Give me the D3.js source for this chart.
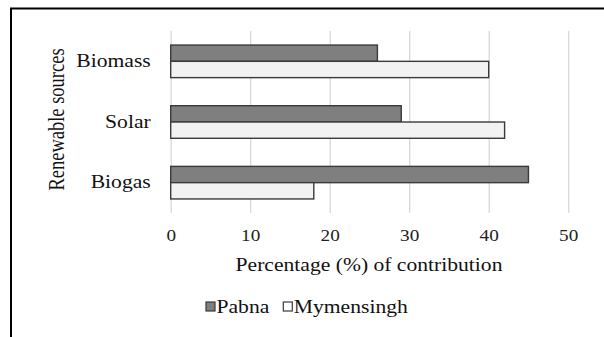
<!DOCTYPE html>
<html>
<head>
<meta charset="utf-8">
<script src="https://cdn.jsdelivr.net/npm/d3@7"></script>
<style>
  html, body { margin: 0; padding: 0; background: #fff; }
  svg text { font-family: "Liberation Serif", "Times New Roman", "DejaVu Serif", serif !important; }
</style>
</head>
<body>
<svg id="chart" width="604" height="337"></svg>
<script>
const categories = ["Biomass", "Solar", "Biogas"];
const seriesNames = ["Pabna", "Mymensingh"];
const pabna = [26, 29, 45];
const mymensingh = [40, 42, 18];
const xTicks = [0, 10, 20, 30, 40, 50];
const xTitle = "Percentage (%) of contribution";
const yTitle = "Renewable sources";
const colors = { Pabna: "#7f7f7f", Mymensingh: "#f2f2f2" };
const strokeColor = "#3a3a3a";
const K = 1.2; // horizontal stretch of the original rendering
const FONT = "'Liberation Serif', 'Times New Roman', serif";

const svg = d3.select("#chart");
const values = { Pabna: pabna, Mymensingh: mymensingh };

function stretch(sel, k) {
  sel.each(function () {
    const l = this.getComputedTextLength();
    this.setAttribute("textLength", l * k);
    this.setAttribute("lengthAdjust", "spacingAndGlyphs");
  });
}

// frame
svg.append("rect").attr("x", 11).attr("y", 8.5).attr("width", 620).attr("height", 360)
  .attr("fill", "none").attr("stroke", "#000").attr("stroke-width", 2);

const x = d3.scaleLinear().domain([0, 50]).range([170.7, 568.2]);
const y0 = d3.scaleBand().domain(categories).range([31, 213]).paddingInner(0.463).paddingOuter(0.2315);
const y1 = d3.scaleBand().domain(seriesNames).range([0, y0.bandwidth()]);

// grid + x axis
const xAxis = svg.append("g").attr("transform", `translate(0,213)`)
  .call(d3.axisBottom(x).tickValues(xTicks).tickSize(-182).tickPadding(16.6).tickFormat(d3.format("d")));
xAxis.attr("font-family", FONT);
xAxis.select(".domain").remove();
xAxis.selectAll(".tick line").attr("stroke", "#d9d9d9").attr("stroke-width", 1.3);
xAxis.selectAll(".tick text").attr("font-size", 16).attr("fill", "#222");
stretch(xAxis.selectAll(".tick text"), K);

// bars
const rows = categories.map((c, i) => ({ c, vals: seriesNames.map(s => ({ s, v: values[s][i] })) }));
const g = svg.append("g").selectAll("g").data(rows).join("g")
  .attr("transform", d => `translate(0,${y0(d.c)})`);
g.selectAll("rect").data(d => d.vals).join("rect")
  .attr("x", x(0))
  .attr("y", d => y1(d.s))
  .attr("width", d => x(d.v) - x(0))
  .attr("height", y1.bandwidth())
  .attr("fill", d => colors[d.s])
  .attr("stroke", strokeColor)
  .attr("stroke-width", 1.4);

// y axis labels
const yAxis = svg.append("g").attr("transform", `translate(${x(0)},0)`)
  .call(d3.axisLeft(y0).tickSize(0).tickPadding(20));
yAxis.attr("font-family", FONT);
yAxis.select(".domain").remove();
yAxis.selectAll(".tick text").attr("font-size", 18).attr("fill", "#111");
stretch(yAxis.selectAll(".tick text"), K);

// axis titles
const xt = svg.append("text").attr("x", 369).attr("y", 270.5).attr("text-anchor", "middle")
  .attr("font-family", FONT).attr("font-size", 18).attr("fill", "#111").text(xTitle);
stretch(xt, K);

svg.append("text")
  .attr("transform", `translate(63.5,119.5) scale(${K},1) rotate(-90)`)
  .attr("text-anchor", "middle").attr("font-family", FONT).attr("font-size", 18.5)
  .attr("fill", "#111").text(yTitle);

// legend
const legend = svg.append("g").attr("transform", "translate(206,313)");
let lx = 0;
seriesNames.forEach(s => {
  legend.append("rect").attr("x", lx).attr("y", -11).attr("width", 9).attr("height", 9)
    .attr("fill", s === "Pabna" ? colors[s] : "#fff").attr("stroke", strokeColor).attr("stroke-width", 1.2);
  const t = legend.append("text").attr("x", lx + 10.5).attr("y", 0)
    .attr("font-family", FONT).attr("font-size", 18).attr("fill", "#111").text(s);
  const w = t.node().getComputedTextLength();
  stretch(t, K);
  lx += 10.5 + w * K + 14;
});
</script>
</body>
</html>
